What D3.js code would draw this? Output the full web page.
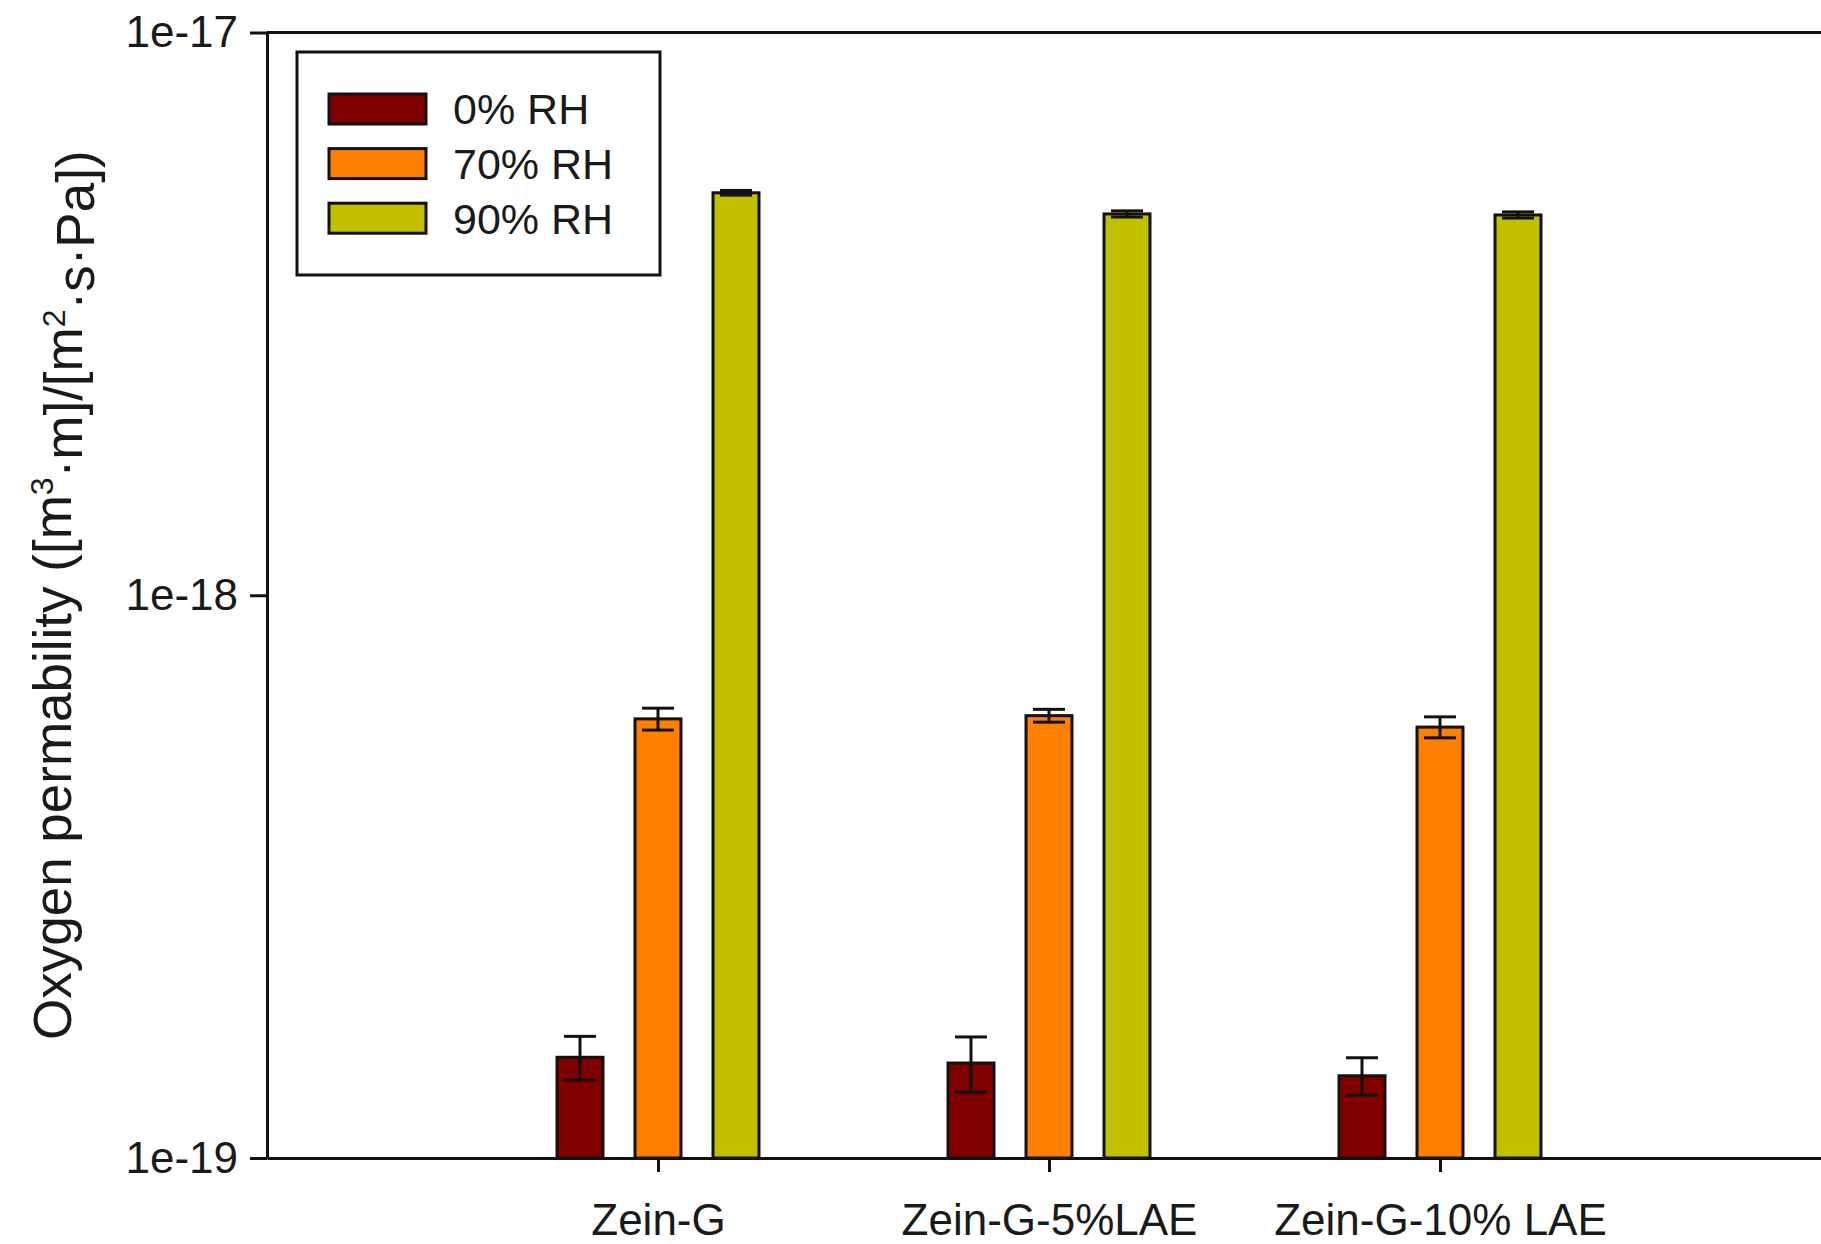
<html>
<head>
    <style>
        body { margin: 0; background: #fff; }
        text { font-family: "Liberation Sans", Arial, sans-serif; fill: #1a1a1a; }
        .axis path, .axis line { stroke: #111; stroke-width: 3px; }
    </style>
</head>
<body>
    <script src="https://d3js.org/d3.v7.min.js"></script>
    <script>
        var width = 1821,
            height = 1244;

        // data
        var categories = ["Zein-G", "Zein-G-5%LAE", "Zein-G-10% LAE"];
        var seriesNames = ["0% RH", "70% RH", "90% RH"];
        var seriesColors = ["#800000", "#ff8000", "#c0c000"];
        var rh0 = [1.51e-19, 1.475e-19, 1.40e-19];
        var rh0Err = [0.135e-19, 0.166e-19, 0.107e-19];
        var rh70 = [6.03e-19, 6.11e-19, 5.83e-19];
        var rh70Err = [0.27e-19, 0.16e-19, 0.25e-19];
        var rh90 = [5.19e-18, 4.76e-18, 4.74e-18];
        var rh90Err = [0.05e-18, 0.06e-18, 0.06e-18];
        var yTicks = [1e-19, 1e-18, 1e-17];

        var values = [rh0, rh70, rh90];
        var errors = [rh0Err, rh70Err, rh90Err];

        // note: "top" is taken by window.top, so plotTop
        var plotLeft = 267, plotTop = 32.5, plotBottom = 1158, groupStep = 391;

        var svg = d3.select("body")
            .append("svg")
            .attr("width", width)
            .attr("height", height);

        var x = d3.scaleLinear().domain([0, 4]).range([plotLeft, plotLeft + 4 * groupStep]);
        var x1 = d3.scaleBand().domain(seriesNames).range([-117, 117])
            .paddingInner(0.372).paddingOuter(0.186);
        var y = d3.scaleLog().domain([1e-19, 1e-17]).range([plotBottom, plotTop]);

        // flatten into bar records
        var bars = [];
        categories.forEach(function (c, i) {
            seriesNames.forEach(function (s, j) {
                bars.push({ cat: i + 1, series: s, color: seriesColors[j], v: values[j][i], e: errors[j][i] });
            });
        });

        svg.append("g").selectAll("rect.bar")
            .data(bars)
            .enter()
            .append("rect")
            .attr("class", "bar")
            .attr("x", d => x(d.cat) + x1(d.series) + 1.5)
            .attr("width", x1.bandwidth() - 3)
            .attr("y", d => y(d.v))
            .attr("height", d => plotBottom - y(d.v))
            .attr("fill", d => d.color)
            .attr("stroke", "#111")
            .attr("stroke-width", 3);

        // error bars
        var eg = svg.append("g").attr("stroke", "#111").attr("stroke-width", 3);
        bars.forEach(function (d) {
            var cx = x(d.cat) + x1(d.series) + x1.bandwidth() / 2;
            var y0 = y(d.v - d.e), y1 = y(d.v + d.e);
            eg.append("line").attr("x1", cx).attr("x2", cx).attr("y1", y0).attr("y2", y1);
            eg.append("line").attr("x1", cx - 16).attr("x2", cx + 16).attr("y1", y1).attr("y2", y1);
            eg.append("line").attr("x1", cx - 16).attr("x2", cx + 16).attr("y1", y0).attr("y2", y0);
        });

        // frame top (right side falls outside the picture)
        svg.append("line")
            .attr("x1", plotLeft).attr("x2", x(4))
            .attr("y1", plotTop).attr("y2", plotTop)
            .attr("stroke", "#111").attr("stroke-width", 3);

        svg.append("g")
            .attr("class", "axis")
            .attr("transform", "translate(" + plotLeft + ",0)")
            .call(d3.axisLeft(y).tickValues(yTicks).tickFormat(d3.format(".0e"))
                .tickSize(17).tickSizeOuter(0).tickPadding(12))
            .selectAll("text")
            .style("font-size", "44px")
            .style("font-family", "'Liberation Sans', Arial, sans-serif")
            .attr("fill", "#1a1a1a");

        svg.append("g")
            .attr("class", "axis")
            .attr("transform", "translate(0," + plotBottom + ")")
            .call(d3.axisBottom(x).tickValues([1, 2, 3]).tickFormat(i => categories[i - 1])
                .tickSize(14).tickSizeOuter(0).tickPadding(32))
            .selectAll("text")
            .style("font-size", "44px")
            .style("font-family", "'Liberation Sans', Arial, sans-serif")
            .attr("fill", "#1a1a1a");

        // y title with superscripts
        var title = svg.append("text")
            .attr("transform", "translate(52," + ((plotTop + plotBottom) / 2) + ") rotate(-90)")
            .attr("text-anchor", "middle")
            .attr("dy", "0.35em")
            .style("font-size", "53px");
        title.append("tspan").text("Oxygen permability ([m");
        title.append("tspan").attr("dy", "-0.55em").style("font-size", "32px").text("3");
        title.append("tspan").attr("dy", "0.55em").text("\u00b7m]/[m");
        title.append("tspan").attr("dy", "-0.55em").style("font-size", "32px").text("2");
        title.append("tspan").attr("dy", "0.55em").text("\u00b7s\u00b7Pa])");

        // legend
        var legend = svg.append("g").attr("transform", "translate(297,52)");
        legend.append("rect")
            .attr("width", 363).attr("height", 223)
            .attr("fill", "#fff").attr("stroke", "#111").attr("stroke-width", 3);
        seriesNames.forEach(function (s, j) {
            var row = legend.append("g").attr("transform", "translate(0," + (57 + j * 54.6) + ")");
            row.append("rect")
                .attr("x", 32).attr("y", -15).attr("width", 97).attr("height", 30)
                .attr("fill", seriesColors[j]).attr("stroke", "#111").attr("stroke-width", 3);
            row.append("text")
                .attr("x", 156).attr("dy", "0.36em")
                .style("font-size", "43px")
                .text(s);
        });
    </script>
</body>
</html>
